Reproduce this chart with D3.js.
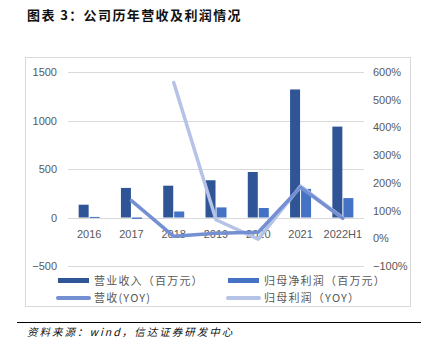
<!DOCTYPE html>
<html>
<head>
<meta charset="utf-8">
<script src="https://cdn.jsdelivr.net/npm/d3@7"></script>
<style>
  body { margin: 0; background: #fff; }
  svg { display: block; font-family: "Noto Sans CJK SC", "Noto Sans", sans-serif; }
</style>
</head>
<body>
<div id="chart"></div>
<script>
// data
const years = ['2016', '2017', '2018', '2019', '2020', '2021', '2022H1'];
const revenue = [132, 305, 328, 384, 469, 1320, 937];       // 营业收入 (百万元)
const netProfit = [6, -14, 62, 104, 98, 295, 200];          // 归母净利润 (百万元)
const revenueYoy = [null, 136, 7, 18, 22, 184, 72];         // 营收 YOY (%)
const profitYoy = [null, null, 562, 67, -3, 188, 74];        // 归母利润 YOY (%)
const leftTicks = [-500, 0, 500, 1000, 1500];
const rightTicks = [-100, 0, 100, 200, 300, 400, 500, 600];

const W = 432, H = 358;
const plot = { left: 68, right: 364, top: 72, bottom: 266 };

const svg = d3.select('#chart').append('svg')
  .attr('width', W).attr('height', H);

// title
svg.append('text')
  .attr('x', 27).attr('y', 20)
  .attr('font-size', 13).attr('font-weight', 'bold').attr('fill', '#111')
  .attr('letter-spacing', 1.4)
  .text('图表 3：公司历年营收及利润情况');

// outer frame
svg.append('rect')
  .attr('x', 25.5).attr('y', 57.5).attr('width', 385).attr('height', 249)
  .attr('fill', 'none').attr('stroke', '#d9d9d9');

const x = d3.scaleBand().domain(years).range([plot.left, plot.right]).padding(0);
const yL = d3.scaleLinear().domain([-500, 1500]).range([plot.bottom, plot.top]);
const yR = d3.scaleLinear().domain([-100, 600]).range([plot.bottom, plot.top]);

// gridlines
svg.append('g').selectAll('line').data(leftTicks).join('line')
  .attr('x1', plot.left).attr('x2', plot.right)
  .attr('y1', d => Math.round(yL(d)) + 0.5).attr('y2', d => Math.round(yL(d)) + 0.5)
  .attr('stroke', '#d9d9d9').attr('stroke-width', 1);

// left axis
const axL = svg.append('g')
  .attr('transform', `translate(${plot.left - 11},0)`)
  .call(d3.axisLeft(yL).tickValues(leftTicks).tickSize(0).tickPadding(0)
    .tickFormat(d => d < 0 ? '\u2212' + Math.abs(d) : d));
axL.select('.domain').remove();
axL.selectAll('text').attr('font-size', 11).attr('fill', '#595959')
  .attr('font-family', 'Liberation Sans, Arial, sans-serif');

// right axis
const axR = svg.append('g')
  .attr('transform', `translate(${plot.right + 9},0)`)
  .call(d3.axisRight(yR).tickValues(rightTicks).tickSize(0).tickPadding(0)
    .tickFormat(d => (d < 0 ? '\u2212' + Math.abs(d) : d) + '%'));
axR.select('.domain').remove();
axR.selectAll('text').attr('font-size', 11).attr('fill', '#595959')
  .attr('font-family', 'Liberation Sans, Arial, sans-serif');

// bars
const barW = 10;
const bars = svg.append('g');
bars.selectAll('rect.rev').data(years).join('rect')
  .attr('class', 'rev')
  .attr('x', (d) => x(d) + x.bandwidth() / 2 - barW - 0.5)
  .attr('width', barW)
  .attr('y', (d, i) => yL(Math.max(0, revenue[i])))
  .attr('height', (d, i) => Math.abs(yL(revenue[i]) - yL(0)))
  .attr('fill', '#2f5597');
bars.selectAll('rect.np').data(years).join('rect')
  .attr('class', 'np')
  .attr('x', (d) => x(d) + x.bandwidth() / 2 + 0.5)
  .attr('width', barW)
  .attr('y', (d, i) => yL(Math.max(0, netProfit[i])))
  .attr('height', (d, i) => Math.max(1, Math.abs(yL(netProfit[i]) - yL(0))))
  .attr('fill', '#4472c4');

// x labels
svg.append('g').selectAll('text').data(years).join('text')
  .attr('x', d => x(d) + x.bandwidth() / 2)
  .attr('y', yL(0) + 20)
  .attr('text-anchor', 'middle')
  .attr('font-size', 11).attr('fill', '#595959')
  .attr('font-family', 'Liberation Sans, Arial, sans-serif')
  .text(d => d);

// lines
const line = d3.line()
  .defined(d => d.v !== null)
  .x(d => x(d.k) + x.bandwidth() / 2)
  .y(d => yR(d.v));

svg.append('path')
  .datum(years.map((k, i) => ({ k, v: profitYoy[i] })))
  .attr('d', line)
  .attr('fill', 'none').attr('stroke', '#b4c3e6').attr('stroke-width', 3.5)
  .attr('stroke-linecap', 'round').attr('stroke-linejoin', 'round');

svg.append('path')
  .datum(years.map((k, i) => ({ k, v: revenueYoy[i] })))
  .attr('d', line)
  .attr('fill', 'none').attr('stroke', '#7490d2').attr('stroke-width', 3.5)
  .attr('stroke-linecap', 'round').attr('stroke-linejoin', 'round');

// legend
const legendItems = [
  { label: '营业收入（百万元）', color: '#2f5597', type: 'bar', lx: 58, ly: 281 },
  { label: '归母净利润（百万元）', color: '#4472c4', type: 'bar', lx: 228, ly: 281 },
  { label: '营收(YOY)', color: '#7490d2', type: 'line', lx: 58, ly: 298 },
  { label: '归母利润（YOY）', color: '#b4c3e6', type: 'line', lx: 228, ly: 298 }
];
const lg = svg.append('g').selectAll('g').data(legendItems).join('g')
  .attr('transform', d => `translate(${d.lx},${d.ly})`);
lg.filter(d => d.type === 'bar').append('rect')
  .attr('x', 0).attr('y', -3).attr('width', 31).attr('height', 5)
  .attr('fill', d => d.color);
lg.filter(d => d.type === 'line').append('line')
  .attr('x1', 0).attr('x2', 31).attr('y1', 0).attr('y2', 0)
  .attr('stroke', d => d.color).attr('stroke-width', 4).attr('stroke-linecap', 'round');
lg.append('text')
  .attr('x', 36).attr('y', 4)
  .attr('font-size', 11).attr('fill', '#595959')
  .attr('letter-spacing', 1.2)
  .text(d => d.label);

// footer
svg.append('line')
  .attr('x1', 17).attr('x2', 421).attr('y1', 322.5).attr('y2', 322.5)
  .attr('stroke', '#000').attr('stroke-width', 1);
svg.append('text')
  .attr('x', 27).attr('y', 336)
  .attr('font-size', 10.5).attr('font-style', 'italic').attr('fill', '#111')
  .attr('letter-spacing', 2)
  .text('资料来源：wind，信达证券研发中心');
</script>
</body>
</html>
